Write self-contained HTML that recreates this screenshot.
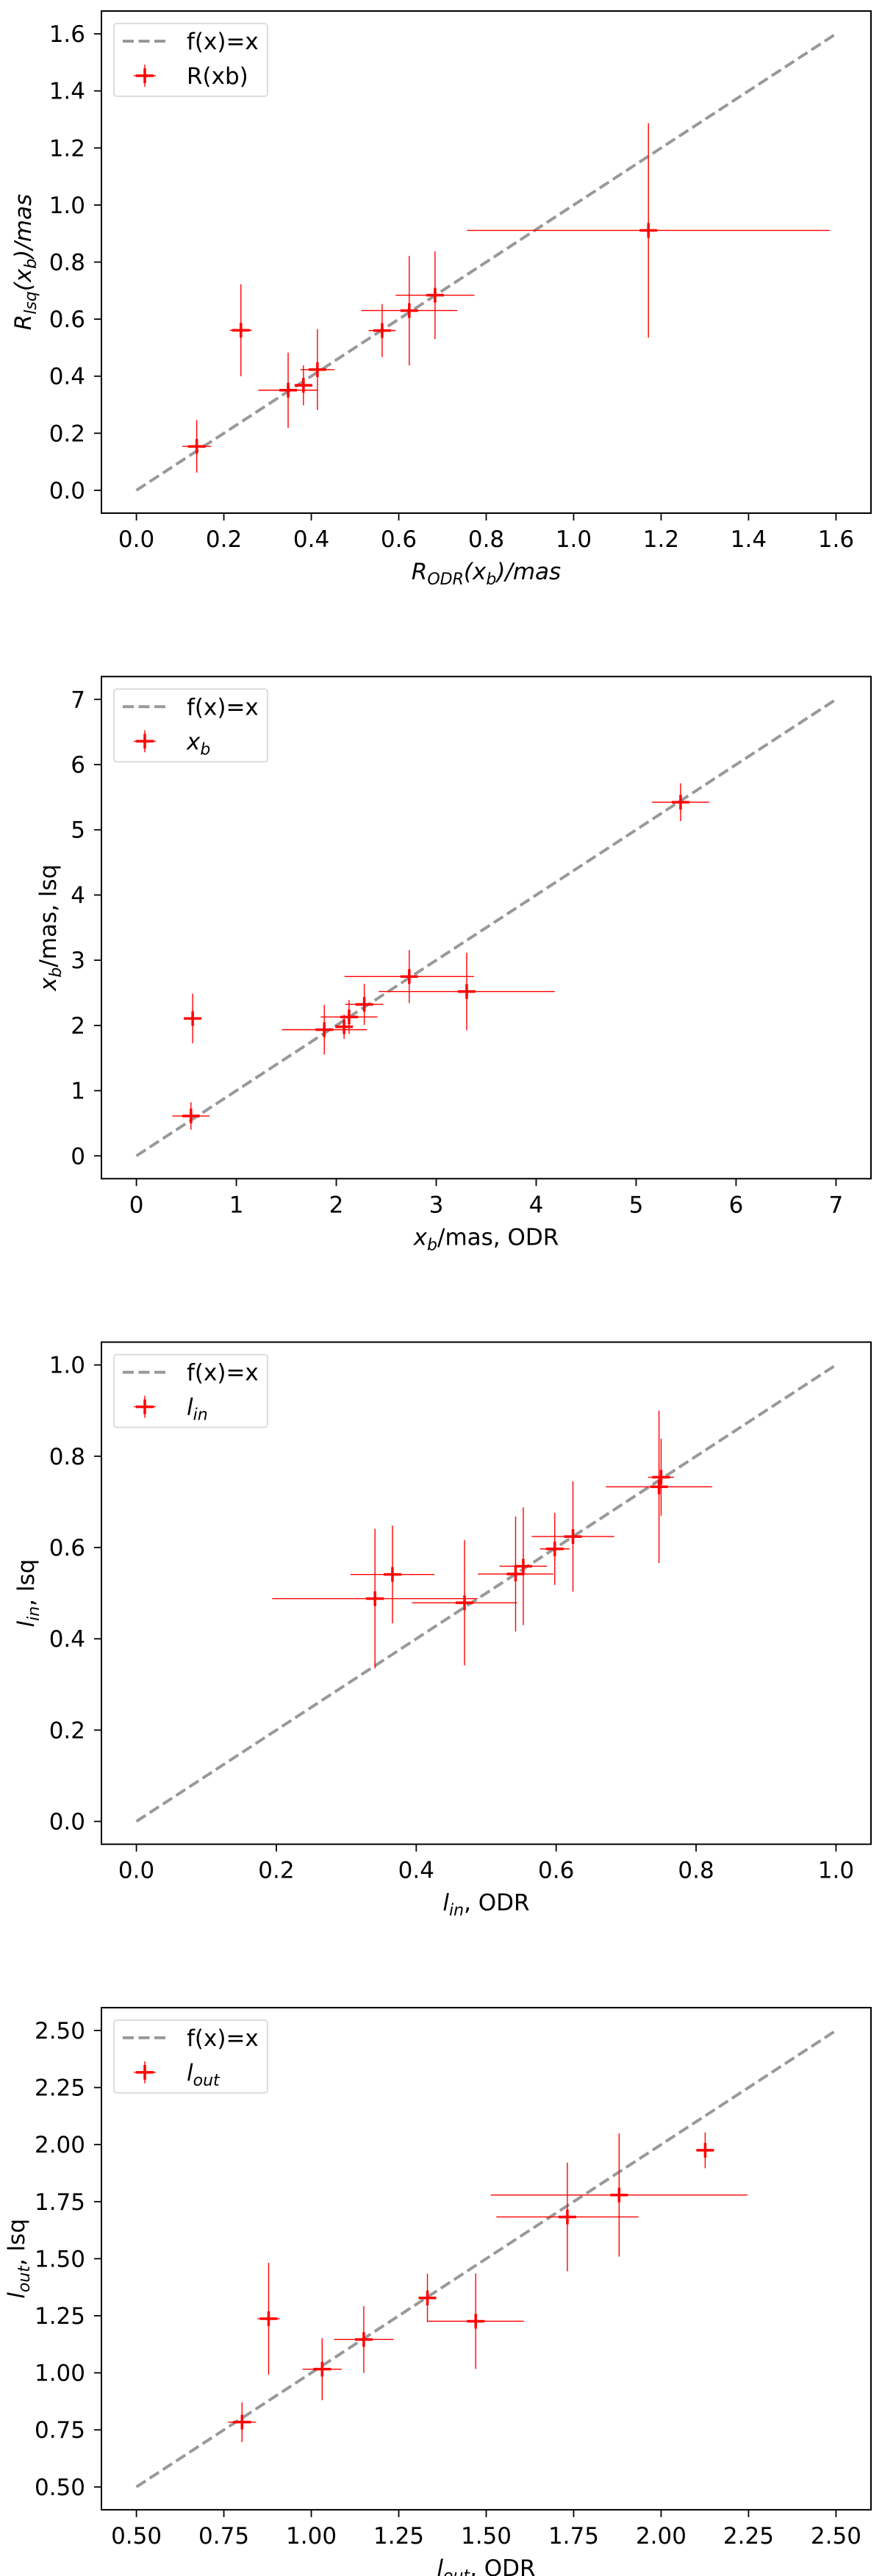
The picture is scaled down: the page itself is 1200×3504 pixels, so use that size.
<!DOCTYPE html>
<html><head><meta charset="utf-8">
<style>
html,body{margin:0;padding:0;background:#fff;}
svg{display:block;}
text{font-family:"DejaVu Sans","Liberation Sans",sans-serif;fill:#000;}
</style></head>
<body>
<svg id="fig" xmlns="http://www.w3.org/2000/svg" width="1200" height="3504" viewBox="0 0 1200 3504"></svg>
<script>
// Panel 1: R(xb)
const p1X = [0.138,0.239,0.347,0.382,0.414,0.562,0.624,0.683,1.171];
const p1Y = [0.154,0.561,0.351,0.368,0.423,0.560,0.630,0.684,0.911];
const p1XErr = [0.033,0.025,0.068,0.017,0.039,0.031,0.110,0.090,0.415];
const p1YErr = [0.092,0.161,0.132,0.070,0.142,0.093,0.192,0.154,0.376];
const p1Ticks = ["0.0","0.2","0.4","0.6","0.8","1.0","1.2","1.4","1.6"];
// Panel 2: x_b
const p2X = [0.546,0.563,1.880,2.078,2.128,2.280,2.730,3.305,5.445];
const p2Y = [0.611,2.107,1.935,1.980,2.130,2.323,2.750,2.520,5.423];
const p2XErr = [0.186,0.076,0.425,0.070,0.284,0.190,0.648,0.881,0.287];
const p2YErr = [0.210,0.380,0.380,0.185,0.260,0.315,0.407,0.595,0.290];
const p2Ticks = ["0","1","2","3","4","5","6","7"];
// Panel 3: l_in
const p3X = [0.341,0.366,0.469,0.542,0.553,0.598,0.624,0.747,0.750];
const p3Y = [0.488,0.541,0.479,0.542,0.559,0.597,0.624,0.733,0.754];
const p3XErr = [0.147,0.060,0.075,0.054,0.034,0.021,0.059,0.076,0.0185];
const p3YErr = [0.153,0.107,0.137,0.126,0.129,0.079,0.121,0.167,0.0845];
const p3Ticks = ["0.0","0.2","0.4","0.6","0.8","1.0"];
// Panel 4: l_out
const p4X = [0.802,0.878,1.031,1.150,1.332,1.470,1.732,1.880,2.126];
const p4Y = [0.784,1.237,1.016,1.146,1.328,1.226,1.683,1.779,1.975];
const p4XErr = [0.040,0.032,0.056,0.085,0.020,0.138,0.203,0.367,0.0225];
const p4YErr = [0.087,0.245,0.136,0.146,0.106,0.209,0.238,0.270,0.0785];
const p4Ticks = ["0.50","0.75","1.00","1.25","1.50","1.75","2.00","2.25","2.50"];

const NS = "http://www.w3.org/2000/svg";
const svg = document.getElementById('fig');
function mk(tag, attrs, parent){
  const e = document.createElementNS(NS, tag);
  for (const k in attrs) e.setAttribute(k, attrs[k]);
  (parent||svg).appendChild(e); return e;
}
// label helper: parts = [[text, italic, sub]]
function rich(t, parts){
  parts.forEach(p=>{
    const s = document.createElementNS(NS,'tspan');
    s.textContent = p[0];
    if (p[1]) s.setAttribute('font-style','italic');
    if (p[2]) { s.setAttribute('font-size','22'); s.setAttribute('dy','7'); }
    else if (p[3]) { s.setAttribute('dy','-7'); }
    t.appendChild(s);
  });
}

const panels = [
 {name:'r-xb', X:p1X,Y:p1Y,XE:p1XErr,YE:p1YErr,ticks:p1Ticks,lo:0,hi:1.6,ylx:31,
  xl:[['R',1],['ODR',1,1],['(x',1,0,1],['b',1,1],[')/mas',1,0,1]],
  yl:[['R',1],['lsq',1,1],['(x',1,0,1],['b',1,1],[')/mas',1,0,1]],
  leg:[['R(xb)',0]]},
 {name:'xb', X:p2X,Y:p2Y,XE:p2XErr,YE:p2YErr,ticks:p2Ticks,lo:0,hi:7,ylx:65,
  xl:[['x',1],['b',1,1],['/mas, ODR',0,0,1]],
  yl:[['x',1],['b',1,1],['/mas, lsq',0,0,1]],
  leg:[['x',1],['b',1,1]]},
 {name:'l-in', X:p3X,Y:p3Y,XE:p3XErr,YE:p3YErr,ticks:p3Ticks,lo:0,hi:1,ylx:35,
  xl:[['l',1],['in',1,1],[', ODR',0,0,1]],
  yl:[['l',1],['in',1,1],[', lsq',0,0,1]],
  leg:[['l',1],['in',1,1]]},
 {name:'l-out', X:p4X,Y:p4Y,XE:p4XErr,YE:p4YErr,ticks:p4Ticks,lo:0.5,hi:2.5,ylx:22,
  xl:[['l',1],['out',1,1],[', ODR',0,0,1]],
  yl:[['l',1],['out',1,1],[', lsq',0,0,1]],
  leg:[['l',1],['out',1,1]]}
];

const L=138, R=1185, H=683;
panels.forEach((p,i)=>{
  const top = 15 + 905.3*i, bot = top + H;
  const span = p.hi - p.lo, pad = 0.05*span;
  const sx = v => L + (v - (p.lo-pad))/(span*1.1)*(R-L);
  const sy = v => bot - (v - (p.lo-pad))/(span*1.1)*H;
  const g = mk('g', {});
  
  
  // clip
  const cid = 'clip'+i;
  const cp = mk('clipPath',{id:cid}, g);
  mk('rect',{x:L,y:top,width:R-L,height:H},cp);
  // identity line
  const ln = mk('line',{x1:sx(p.lo),y1:sy(p.lo),x2:sx(p.hi),y2:sy(p.hi),stroke:'#999','stroke-width':4,'stroke-dasharray':'15,6.5'}, g);
  
  
  // points
  const pg = mk('g',{'clip-path':'url(#'+cid+')'}, g);
  p.X.forEach((xv,j)=>{
    const yv = p.Y[j];
    const cx = sx(xv), cy = sy(yv);
    const e = mk('g',{}, pg);
    
    
    mk('line',{x1:sx(xv-p.XE[j]),y1:cy,x2:sx(xv+p.XE[j]),y2:cy,stroke:'#f00','stroke-width':1.4}, e);
    mk('line',{x1:cx,y1:sy(yv-p.YE[j]),x2:cx,y2:sy(yv+p.YE[j]),stroke:'#f00','stroke-width':1.4}, e);
    mk('line',{x1:cx-12,y1:cy,x2:cx+12,y2:cy,stroke:'#f00','stroke-width':3.5}, e);
    mk('line',{x1:cx,y1:cy-10,x2:cx,y2:cy+10,stroke:'#f00','stroke-width':3.5}, e);
  });
  // frame
  const fr = mk('rect',{x:L,y:top,width:R-L,height:H,fill:'none',stroke:'#000','stroke-width':2}, g);
  
  
  // ticks
  p.ticks.forEach(t=>{
    const v = parseFloat(t);
    const x = sx(v), y = sy(v);
    mk('line',{x1:x,y1:bot,x2:x,y2:bot+10,stroke:'#000','stroke-width':1.8}, g);
    const xt = mk('text',{x:x,y:bot+46,'font-size':31,'text-anchor':'middle'}, g);
    xt.textContent = t;
    
    
    mk('line',{x1:L-10,y1:y,x2:L,y2:y,stroke:'#000','stroke-width':1.8}, g);
    const yt = mk('text',{x:L-22,y:y+11,'font-size':31,'text-anchor':'end'}, g);
    yt.textContent = t;
    
    
  });
  // axis titles
  const xt = mk('text',{x:(L+R)/2,y:bot+90,'font-size':31,'text-anchor':'middle'}, g);
  rich(xt, p.xl);
  
  
  const yc = (top+bot)/2;
  const yt = mk('text',{x:p.ylx+11,y:yc,'font-size':31,'text-anchor':'middle',transform:'rotate(-90 '+(p.ylx+11)+' '+yc+')'}, g);
  rich(yt, p.yl);
  
  
  // legend
  const lg = mk('g',{}, g);
  
  
  mk('rect',{x:155,y:top+17,width:209,height:99,rx:4,fill:'#fff',stroke:'#ddd','stroke-width':2}, lg);
  mk('line',{x1:167,y1:top+41,x2:229,y2:top+41,stroke:'#999','stroke-width':4,'stroke-dasharray':'15,6.5'}, lg);
  const t1 = mk('text',{x:254,y:top+52,'font-size':31}, lg);
  t1.textContent = 'f(x)=x';
  const mx=197, my=top+88;
  mk('line',{x1:mx-15,y1:my,x2:mx+15,y2:my,stroke:'#f00','stroke-width':1.4}, lg);
  mk('line',{x1:mx,y1:my-15,x2:mx,y2:my+15,stroke:'#f00','stroke-width':1.4}, lg);
  mk('line',{x1:mx-12,y1:my,x2:mx+12,y2:my,stroke:'#f00','stroke-width':3.5}, lg);
  mk('line',{x1:mx,y1:my-10,x2:mx,y2:my+10,stroke:'#f00','stroke-width':3.5}, lg);
  const t2 = mk('text',{x:254,y:top+99,'font-size':31}, lg);
  rich(t2, p.leg);
});
</script>
</body></html>
